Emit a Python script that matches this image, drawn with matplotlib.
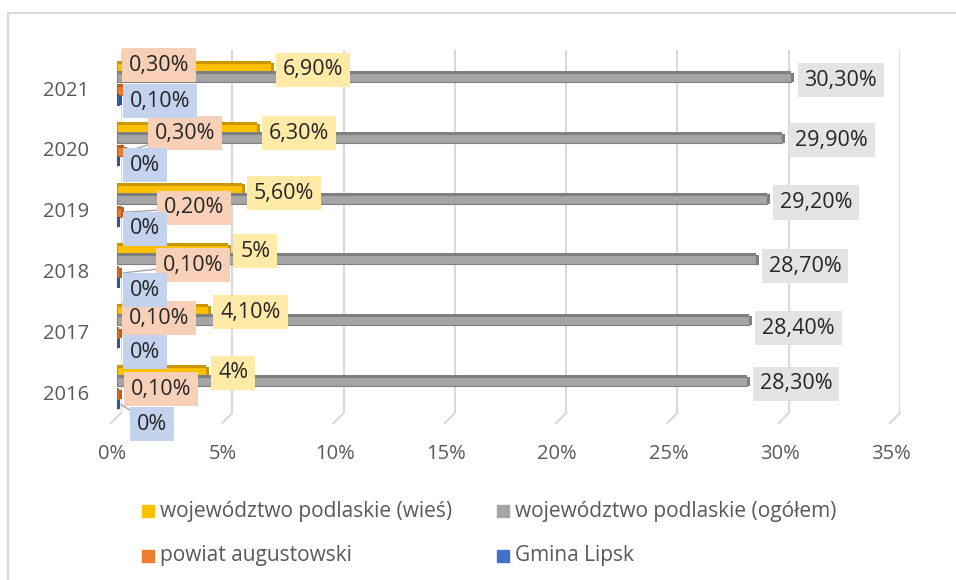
import matplotlib
matplotlib.use("Agg")
from matplotlib import pyplot as plt
from matplotlib.lines import Line2D
from matplotlib.patches import Rectangle
from matplotlib.transforms import ScaledTranslation

plt.rcParams['font.family'] = ['Open Sans', 'DejaVu Sans']

years = ['2016', '2017', '2018', '2019', '2020', '2021']
series_names = ['województwo podlaskie (wieś)', 'województwo podlaskie (ogółem)',
                'powiat augustowski', 'Gmina Lipsk']
wies = [4.0, 4.1, 5.0, 5.6, 6.3, 6.9]
ogolem = [28.3, 28.4, 28.7, 29.2, 29.9, 30.3]
powiat = [0.1, 0.1, 0.1, 0.2, 0.3, 0.3]
lipsk = [0.0, 0.0, 0.0, 0.0, 0.0, 0.1]
x_ticks = [0, 5, 10, 15, 20, 25, 30, 35]

W, H, DPI = 956, 580, 100
colors = ['#FFC000', '#A5A5A5', '#ED7D31', '#4472C4']
edge_colors = ['#C99700', '#7F7F7F', '#B95F20', '#2F5597']
box_colors = ['#FFEAA8', '#E4E4E4', '#F8D0B8', '#C3D3EE']

# pixel layout of the back wall of the plot
ax_left, ax_right, ax_top, ax_bottom = 121, 900, 50, 413
px_per_x = (ax_right - ax_left) / 35
y_base = 392          # pixel row of the first category
px_per_y = 60.8

# bar centre offsets inside a category (pixels, downwards) and bar thickness
bar_offsets = [-20.5, -10.5, 2.5, 12.5]
bar_px = 9

# label offsets in pixels (dx to text left edge, dy upwards) per series and year
label_dx = [
    [8, 8, 8, 8, 8, 8],
    [9, 9, 9, 9, 9, 9],
    [7.7, 5.7, 39.7, 38.5, 27.2, 1.2],
    [15.9, 8.9, 8.9, 8.9, 8.9, 6.7],
]
label_dy = [
    [-1.5, -1.3, -1.1, -3.9, -4.7, -2.5],
    [-2.5, -7.3, -6.1, -3.4, -1.7, -2.5],
    [5.5, 15.7, 7.9, 4.1, 18.3, 25.5],
    [-19.5, -8.3, -7.1, -6.9, -3.7, -0.5],
]
# labels that get a leader line back to their bar
leaders = {(2, 2), (2, 3), (2, 4), (3, 0)}


def fmt(v):
    if v == int(v):
        return f'{int(v)}%'
    return f'{v:.2f}'.replace('.', ',') + '%'


fig = plt.figure(figsize=(W / DPI, H / DPI), dpi=DPI)
ax = fig.add_axes([ax_left / W, 1 - ax_bottom / H,
                   (ax_right - ax_left) / W, (ax_bottom - ax_top) / H])
y_lo = -(ax_bottom - y_base) / px_per_y
y_hi = (y_base - ax_top) / px_per_y
ax.set_xlim(0, 35)
ax.set_ylim(y_lo, y_hi)

# grid on the back wall with a short slanted floor edge
ax.vlines(x_ticks, y_lo, y_hi, color='#D9D9D9', lw=1.5, zorder=0)
for xt in x_ticks:
    ax.plot([xt, xt - 10 / px_per_x], [y_lo, y_lo - 10 / px_per_y],
            color='#D9D9D9', lw=1.5, clip_on=False, zorder=0)

front = ax.transData + ScaledTranslation(-4 / DPI, 0, fig.dpi_scale_trans)
all_series = [wies, ogolem, powiat, lipsk]
cap_w = 3 / px_per_x
h = bar_px / px_per_y
pos = list(range(len(years)))

for s, vals in enumerate(all_series):
    ys = [p - bar_offsets[s] / px_per_y for p in pos]
    bars = ax.barh(ys, vals, height=h, color=colors[s], edgecolor=edge_colors[s],
                   lw=0.8, zorder=3 + s * 0.1)
    caps = ax.barh(ys, [cap_w] * len(vals), left=vals, height=h * 1.05,
                   color=edge_colors[s], lw=0, zorder=3 + s * 0.1)
    # thin darker top face
    tops = ax.barh([y + h / 2 + 1 / px_per_y for y in ys], vals, height=2 / px_per_y,
                   color=edge_colors[s], lw=0, zorder=3 + s * 0.1)
    for p in list(bars) + list(caps) + list(tops):
        p.set_transform(front)
        p.set_clip_on(False)

    for i, v in enumerate(vals):
        arrow = None
        if (s, i) in leaders:
            arrow = dict(arrowstyle='-', color='#A6A6A6', lw=1, shrinkA=0, shrinkB=0)
        ax.annotate(fmt(v), xy=(v, ys[i]), xytext=(label_dx[s][i], label_dy[s][i]),
                    textcoords='offset pixels', ha='left', va='center',
                    fontsize=15.5, color='#262626', zorder=10 + s,
                    bbox=dict(boxstyle='square,pad=0.32', fc=box_colors[s], ec='none'),
                    arrowprops=arrow, annotation_clip=False)

for side in ['top', 'right', 'left', 'bottom']:
    ax.spines[side].set_visible(False)
ax.set_yticks(pos, years)
ax.set_xticks(x_ticks, [f'{t}%' for t in x_ticks])
ax.tick_params(axis='both', length=0, labelsize=14.5, labelcolor='#595959')
ax.tick_params(axis='y', pad=23)
ax.tick_params(axis='x', pad=22)
shift = ScaledTranslation(-9 / DPI, 0, fig.dpi_scale_trans)
for lab in ax.get_xticklabels():
    lab.set_transform(lab.get_transform() + shift)

# legend, two columns
leg_x = [142, 497]
leg_y = [511, 556]
for k, name in enumerate(series_names):
    cx, cy = leg_x[k % 2], leg_y[k // 2]
    fig.patches.append(Rectangle((cx / W, 1 - (cy + 6) / H), 12 / W, 12 / H,
                                 transform=fig.transFigure, color=colors[k]))
    fig.text((cx + 18) / W, 1 - cy / H, name, ha='left', va='center',
             fontsize=15, color='#595959')

# chart frame
fig.lines.append(Line2D([8 / W, 8 / W], [0, 1 - 13 / H], transform=fig.transFigure,
                        color='#D9D9D9', lw=1.5))
fig.lines.append(Line2D([8 / W, 1], [1 - 13 / H, 1 - 13 / H], transform=fig.transFigure,
                        color='#D9D9D9', lw=1.5))

fig.savefig('out.png', dpi=DPI)
